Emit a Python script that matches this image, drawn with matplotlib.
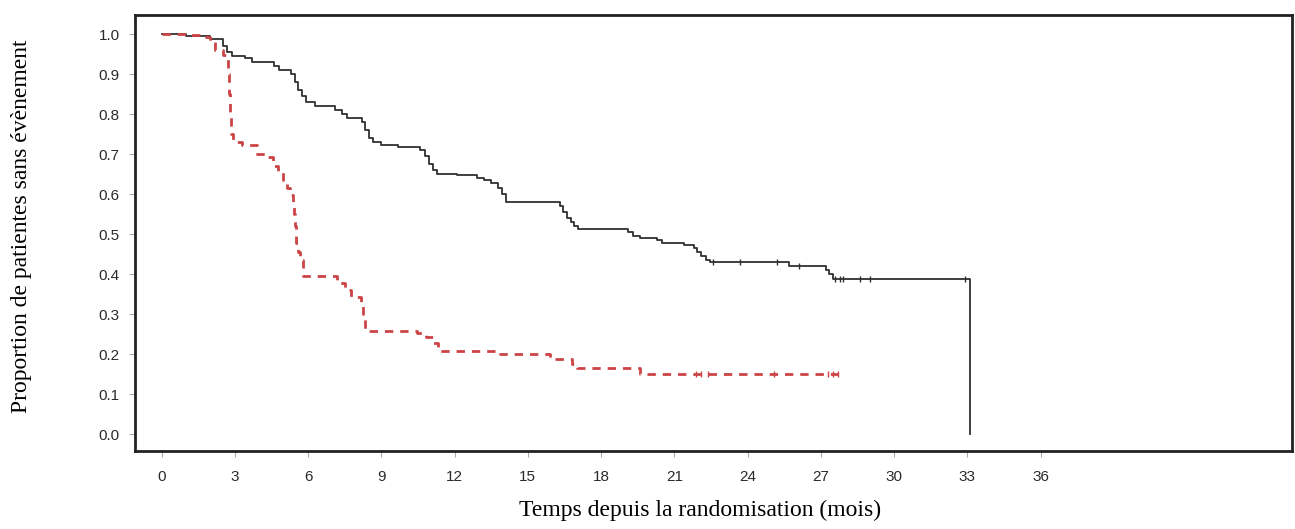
import numpy as np
import matplotlib

matplotlib.use("Agg")
import matplotlib.pyplot as plt

# black curve (treatment arm): event times (months) and survival after each step
black_t = [0, 1.0, 2.0, 2.5, 2.7, 2.9, 3.4, 3.7, 4.6, 4.8, 5.3, 5.45, 5.6, 5.75, 5.9,
           6.3, 7.1, 7.4, 7.6, 8.2, 8.35, 8.5, 8.65, 9.0, 9.7, 10.6, 10.8, 10.95, 11.1,
           11.3, 12.1, 12.9, 13.2, 13.5, 13.8, 13.95, 14.1, 16.3, 16.45, 16.6, 16.75,
           16.9, 17.05, 19.1, 19.3, 19.6, 20.3, 20.5, 21.4, 21.8, 21.95, 22.1, 22.3,
           22.45, 25.7, 27.2, 27.35, 27.5, 33.1]
black_s = [1.0, 0.995, 0.987, 0.97, 0.955, 0.945, 0.94, 0.93, 0.92, 0.91, 0.90, 0.88,
           0.86, 0.845, 0.83, 0.82, 0.81, 0.80, 0.79, 0.78, 0.76, 0.74, 0.73, 0.7225,
           0.718, 0.71, 0.695, 0.675, 0.66, 0.65, 0.647, 0.64, 0.635, 0.628, 0.615,
           0.60, 0.58, 0.57, 0.555, 0.54, 0.53, 0.52, 0.5125, 0.505, 0.495, 0.49,
           0.485, 0.478, 0.472, 0.465, 0.455, 0.445, 0.435, 0.43, 0.42, 0.41, 0.40,
           0.3875, 0.0]
black_censor = [22.6, 23.7, 25.2, 26.1, 27.6, 27.8, 27.9, 28.6, 29.0, 32.9]

# red dashed curve (control arm)
red_t = [0, 1.1, 1.7, 2.0, 2.2, 2.5, 2.72, 2.76, 2.8, 2.85, 2.93, 3.3, 3.9, 4.3, 4.55,
         4.75, 4.98, 5.15, 5.27, 5.38, 5.42, 5.45, 5.5, 5.6, 5.68, 5.8, 7.2, 7.5, 7.75,
         8.15, 8.26, 8.34, 10.45, 10.85, 11.1, 11.33, 13.85, 15.9, 16.8, 17.03, 19.6]
red_s = [1.0, 0.997, 0.993, 0.98, 0.96, 0.9475, 0.90, 0.85, 0.80, 0.75, 0.73, 0.7225,
         0.70, 0.6925, 0.67, 0.655, 0.635, 0.615, 0.5975, 0.5775, 0.55, 0.52, 0.4775,
         0.455, 0.435, 0.395, 0.3775, 0.36, 0.3425, 0.33, 0.30, 0.2575, 0.2525, 0.2425,
         0.2275, 0.208, 0.2, 0.1875, 0.175, 0.164, 0.15]
red_end = 27.7
red_censor = [21.9, 22.1, 22.4, 25.1, 27.3, 27.5, 27.7]

x_ticks = list(range(0, 37, 3))
y_ticks = [round(0.1 * i, 1) for i in range(11)]


def surv_at(times, surv, pts):
    idx = np.searchsorted(times, pts, side="right") - 1
    return np.asarray(surv)[idx]


fig = plt.figure(figsize=(12.95, 5.29), dpi=100)
ax = fig.add_axes([0.1042, 0.1474, 0.8935, 0.8242])

ax.step(black_t, black_s, where="post", color="#303030", lw=1.3)
ax.plot(black_censor, surv_at(black_t, black_s, black_censor), "|",
        color="#303030", ms=5, mew=1.0)

rt = red_t + [red_end]
rs = red_s + [red_s[-1]]
ax.step(rt, rs, where="post", color="#cc4446", lw=2.0, linestyle=(0, (3, 2.5)))
ax.plot(red_censor, surv_at(red_t, red_s, red_censor), "|",
        color="#cc4446", ms=5, mew=1.0)

ax.set_xlim(-1.09, 46.3)
ax.set_ylim(-0.0425, 1.0475)
ax.set_xticks(x_ticks)
ax.set_yticks(y_ticks)
ax.set_yticklabels([f"{v:.1f}" for v in y_ticks])

for sp in ax.spines.values():
    sp.set_linewidth(2.0)
    sp.set_color("#222222")

ax.tick_params(axis="both", direction="out", length=4, width=0.8, color="#aaaaaa",
               labelsize=11, labelcolor="#2a2a2a")
ax.tick_params(axis="x", pad=10)
ax.tick_params(axis="y", pad=7)
for lab in ax.get_xticklabels() + ax.get_yticklabels():
    lab.set_family("Liberation Sans")

fig.text(0.5405, 0.036, "Temps depuis la randomisation (mois)", ha="center", va="center",
         family="Liberation Serif", fontsize=17)
fig.text(0.0165, 0.572, "Proportion de patientes sans évènement", ha="center",
         va="center", rotation=90, family="Liberation Serif", fontsize=17)

fig.savefig("out.png", dpi=100)
